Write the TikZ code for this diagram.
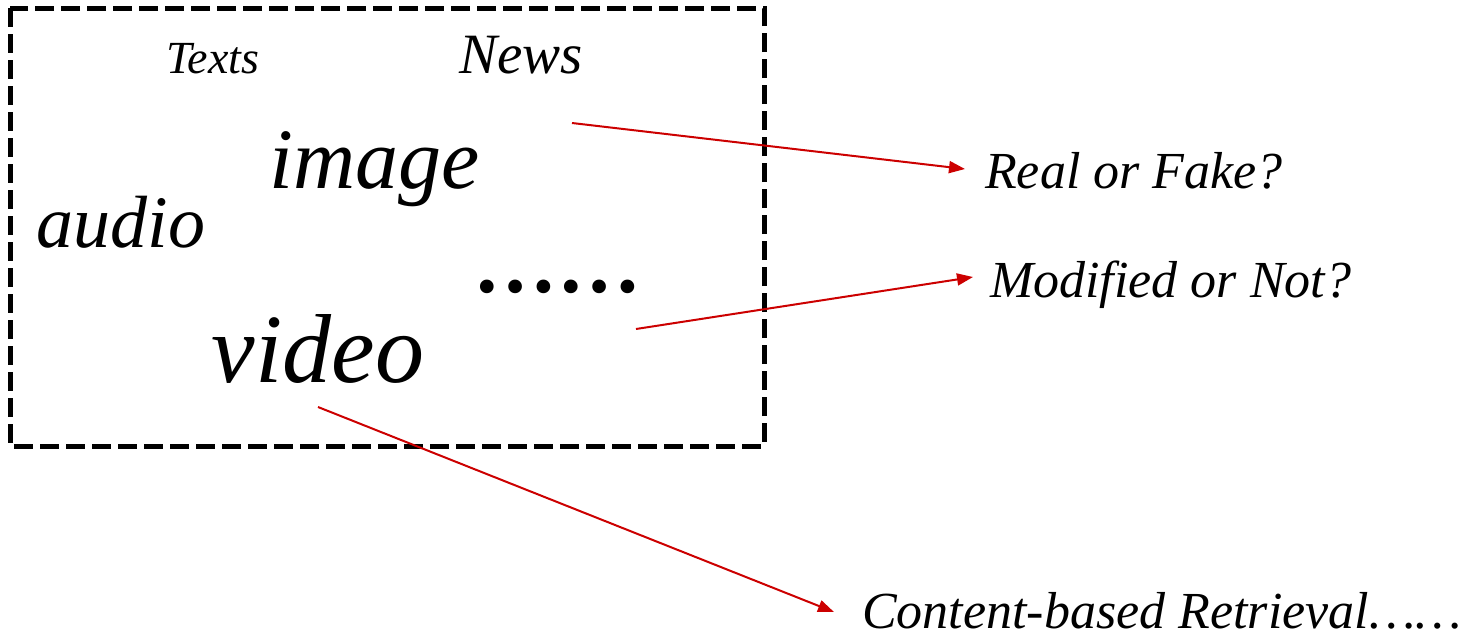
\documentclass[tikz,border=0pt]{standalone}
\usepackage{fontspec}
\setmainfont{Liberation Serif}[ItalicFont={Liberation Serif Italic}]
\newfontfamily\timesit{Liberation Serif Italic}
\newfontfamily\timesbf{Liberation Serif Bold}
\usetikzlibrary{arrows.meta}
\definecolor{arrowred}{RGB}{204,0,0}
\tikzset{
  word/.style={font=\timesit\fontsize{#1}{#1}\selectfont, inner sep=0pt, anchor=base},
  label/.style={font=\timesit\fontsize{52}{52}\selectfont, inner sep=0pt, anchor=base west},
  link/.style={draw=arrowred, line width=2pt, -{Triangle[length=16pt,width=12pt]}},
  frame/.style={draw=black, line width=5pt, dash pattern=on 19pt off 7pt}
}
\begin{document}
\begin{tikzpicture}[x=1pt,y=-1pt]
  \useasboundingbox (0,0) rectangle (1470,637);
  % dashed frame around the media types
  \draw[frame] (10,8) rectangle (764,446);
  % media types
  \node[word=46] (texts) at (213,73) {Texts};
  \node[word=57] (news)  at (521,73) {News};
  \node[word=86] (image) at (375,188) {image};
  \node[word=74] (audio) at (121,247) {audio};
  \node[word=98] (video) at (318,382) {video};
  \node[font=\timesbf\fontsize{84}{84}\selectfont, inner sep=0pt, anchor=base] (more) at (557,292) {……};
  % tasks
  \node[label] (real) at (985,188) {Real or Fake?};
  \node[label] (modified) at (990,297) {Modified or Not?};
  \node[label] (retrieval) at (862,628) {Content-based Retrieval……};
  % arrow end points
  \coordinate (s1) at (572,123);
  \coordinate (e1) at (965,169);
  \coordinate (s2) at (636,329);
  \coordinate (e2) at (973,277);
  \coordinate (s3) at (318,407);
  \coordinate (e3) at (834,612);
  \draw[link] (s1) -- (e1);
  \draw[link] (s2) -- (e2);
  \draw[link] (s3) -- (e3);
\end{tikzpicture}
\end{document}
